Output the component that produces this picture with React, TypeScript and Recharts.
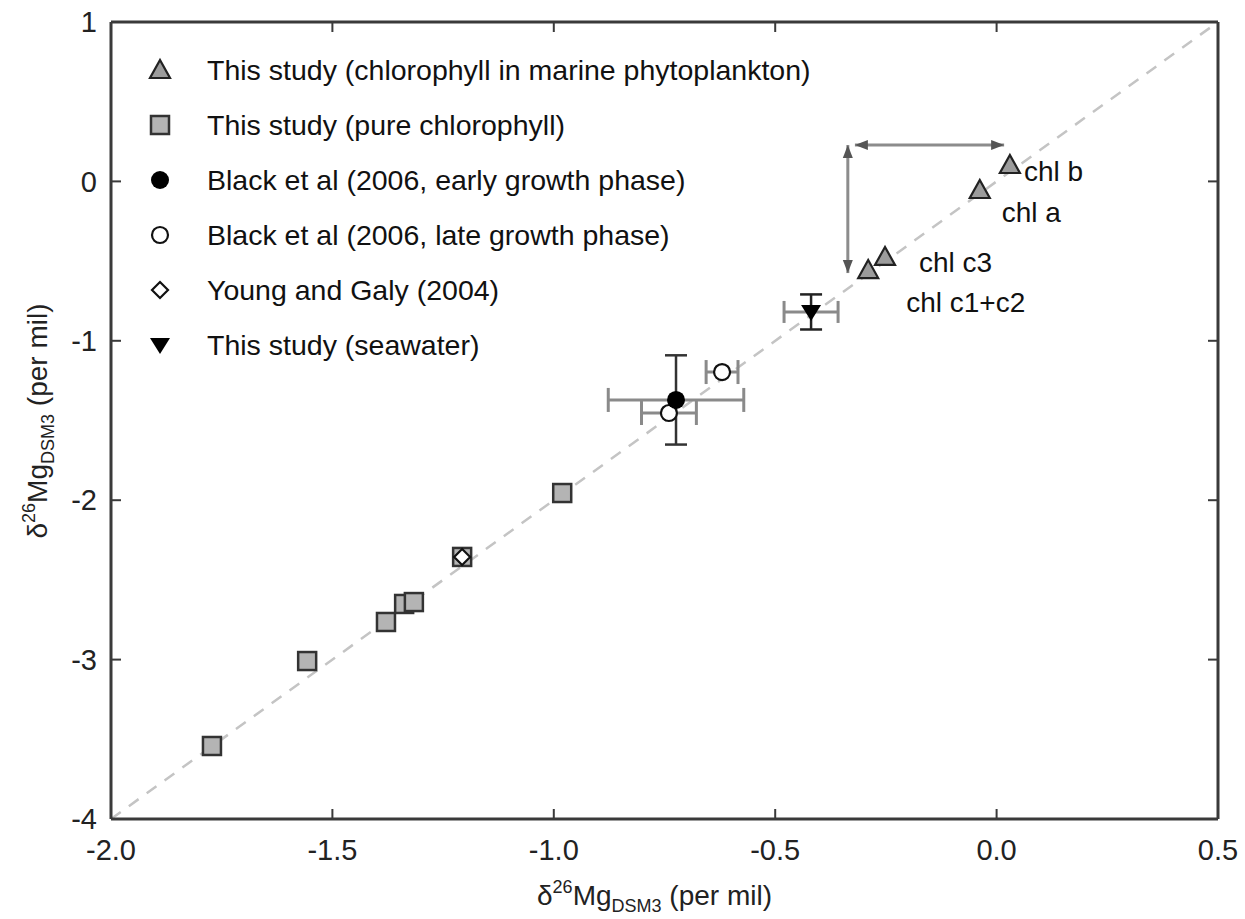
import React from "react";
import { ScatterChart, Scatter, XAxis, YAxis, ErrorBar, ReferenceLine, LabelList } from "recharts";

const xTicks = [-2, -1.5, -1, -0.5, 0, 0.5];
const yTicks = [-4, -3, -2, -1, 0, 1];

// chlorophyll in marine phytoplankton
const phytoNames = ["chl b", "chl a", "chl c3", "chl c1+c2"];
const phytoX = [0.03, -0.038, -0.252, -0.29];
const phytoY = [0.103, -0.054, -0.474, -0.556];

// pure chlorophyll
const pureX = [-1.772, -1.557, -1.379, -1.338, -1.316, -1.207, -0.981];
const pureY = [-3.542, -3.009, -2.764, -2.651, -2.639, -2.356, -1.955];

// Black et al 2006
const earlyX = [-0.724];
const earlyY = [-1.371];
const earlyErrX = [0.153];
const earlyErrY = [0.28];

const lateX = [-0.74, -0.62];
const lateY = [-1.453, -1.196];
const lateErrX = [0.062, 0.036];

// Young and Galy 2004
const youngX = [-1.207];
const youngY = [-2.356];

// seawater
const seaX = [-0.419];
const seaY = [-0.819];
const seaErrX = [0.061];
const seaErrY = [0.11];

// range arrows
const hArrow = [{ x: -0.32, y: 0.228 }, { x: 0.017, y: 0.228 }];
const vArrow = [{ x: -0.336, y: 0.228 }, { x: -0.336, y: -0.575 }];
const oneToOne = [{ x: -2, y: -4 }, { x: 0.5, y: 1 }];

const phytoData = phytoX.map((x, i) => ({ x, y: phytoY[i], name: phytoNames[i] }));
const pureData = pureX.map((x, i) => ({ x, y: pureY[i] }));
const earlyData = earlyX.map((x, i) => ({ x, y: earlyY[i], ex: earlyErrX[i], ey: earlyErrY[i] }));
const lateData = lateX.map((x, i) => ({ x, y: lateY[i], ex: lateErrX[i] }));
const youngData = youngX.map((x, i) => ({ x, y: youngY[i] }));
const seaData = seaX.map((x, i) => ({ x, y: seaY[i], ex: seaErrX[i], ey: seaErrY[i] }));

const FONT = "'Liberation Sans', Arial, sans-serif";

const TriUp = ({ cx, cy }: any) => (
  <polygon
    points={`${cx},${cy - 10} ${cx - 10},${cy + 8} ${cx + 10},${cy + 8}`}
    fill="#9c9c9c"
    stroke="#222"
    strokeWidth={2.2}
  />
);

const Square = ({ cx, cy }: any) => (
  <rect x={cx - 9} y={cy - 9} width={18} height={18} fill="#b4b4b4" stroke="#333" strokeWidth={2.5} />
);

const FilledCircle = ({ cx, cy }: any) => <circle cx={cx} cy={cy} r={9} fill="#000" />;

const OpenCircle = ({ cx, cy }: any) => (
  <circle cx={cx} cy={cy} r={8} fill="#fff" stroke="#111" strokeWidth={2.2} />
);

const Diamond = ({ cx, cy }: any) => (
  <polygon
    points={`${cx},${cy - 8} ${cx + 8},${cy} ${cx},${cy + 8} ${cx - 8},${cy}`}
    fill="#fff"
    stroke="#111"
    strokeWidth={2.2}
  />
);

const TriDown = ({ cx, cy }: any) => (
  <polygon points={`${cx - 10},${cy - 7} ${cx + 10},${cy - 7} ${cx},${cy + 9}`} fill="#000" />
);

const Hidden = () => <g />;

const Arrow = (p: any) => {
  const { x1, y1, x2, y2 } = p;
  const a = Math.atan2(y2 - y1, x2 - x1);
  const head = (x: number, y: number, ang: number) => {
    const L = 13;
    const W = 5;
    const bx = x - L * Math.cos(ang);
    const by = y - L * Math.sin(ang);
    return `${x},${y} ${bx - W * Math.sin(ang)},${by + W * Math.cos(ang)} ${bx + W * Math.sin(ang)},${by - W * Math.cos(ang)}`;
  };
  return (
    <g>
      <line x1={x1} y1={y1} x2={x2} y2={y2} stroke="#8c8c8c" strokeWidth={3} />
      <polygon points={head(x2, y2, a)} fill="#555" />
      <polygon points={head(x1, y1, a + Math.PI)} fill="#555" />
    </g>
  );
};

const chlOffsets: Record<string, [number, number]> = {
  "chl b": [14, 16],
  "chl a": [22, 32],
  "chl c3": [34, 15],
  "chl c1+c2": [38, 42],
};

const ChlLabel = (p: any) => {
  const { x, y, width, height, value } = p;
  const cx = x + (width || 0) / 2;
  const cy = y + (height || 0) / 2;
  const [dx, dy] = chlOffsets[value] || [12, 0];
  return (
    <text x={cx + dx} y={cy + dy} fontSize={28} fontFamily={FONT} fill="#111">
      {value}
    </text>
  );
};

const XTitle = (p: any) => {
  const vb = p.viewBox;
  return (
    <text x={vb.x + vb.width / 2 - 10} y={905} textAnchor="middle" fontSize={28} fontFamily={FONT} fill="#222">
      δ<tspan fontSize={18} dy={-12}>26</tspan>
      <tspan dy={12}>Mg</tspan>
      <tspan fontSize={18} dy={7}>DSM3</tspan>
      <tspan dy={-7}> (per mil)</tspan>
    </text>
  );
};

const YTitle = () => (
  <text
    x={0}
    y={0}
    transform="translate(47,421) rotate(-90)"
    textAnchor="middle"
    fontSize={28}
    fontFamily={FONT}
    fill="#222"
  >
    δ<tspan fontSize={18} dy={-12}>26</tspan>
    <tspan dy={12}>Mg</tspan>
    <tspan fontSize={18} dy={7}>DSM3</tspan>
    <tspan dy={-7}> (per mil)</tspan>
  </text>
);

const legendItems = [
  { label: "This study (chlorophyll in marine phytoplankton)", Shape: TriUp },
  { label: "This study (pure chlorophyll)", Shape: Square },
  { label: "Black et al (2006, early growth phase)", Shape: FilledCircle },
  { label: "Black et al (2006, late growth phase)", Shape: OpenCircle },
  { label: "Young and Galy (2004)", Shape: Diamond },
  { label: "This study (seawater)", Shape: TriDown },
];

const tickStyle = { fontSize: 29, fontFamily: FONT, fill: "#222" };
const axisLine = { stroke: "#3a3a3a", strokeWidth: 3 };
const tickLine = { stroke: "#3a3a3a", strokeWidth: 2 };
const NoTick = () => <g />;

export default function App() {
  return (
    <div style={{ position: "absolute", left: 0, top: 0, width: 1245, height: 919, background: "#fff" }}>
      <ScatterChart width={1245} height={919} margin={{ top: 21, right: 26, bottom: 40, left: 11 }}>
        <XAxis
          type="number"
          dataKey="x"
          domain={[-2, 0.5]}
          ticks={xTicks}
          allowDataOverflow
          tickFormatter={(v: number) => v.toFixed(1)}
          tick={tickStyle}
          tickSize={-10}
          tickMargin={30}
          height={60}
          axisLine={axisLine}
          tickLine={tickLine}
          label={<XTitle />}
        />
        <YAxis
          type="number"
          dataKey="y"
          domain={[-4, 1]}
          ticks={yTicks}
          allowDataOverflow
          tick={tickStyle}
          tickSize={-10}
          tickMargin={24}
          width={100}
          axisLine={axisLine}
          tickLine={tickLine}
          label={<YTitle />}
        />
        <XAxis
          xAxisId="top"
          orientation="top"
          type="number"
          dataKey="x"
          domain={[-2, 0.5]}
          ticks={xTicks}
          allowDataOverflow
          tick={NoTick}
          tickSize={-10}
          height={1}
          axisLine={axisLine}
          tickLine={tickLine}
        />
        <YAxis
          yAxisId="right"
          orientation="right"
          type="number"
          dataKey="y"
          domain={[-4, 1]}
          ticks={yTicks}
          allowDataOverflow
          tick={NoTick}
          tickSize={-10}
          width={1}
          axisLine={axisLine}
          tickLine={tickLine}
        />
        <Scatter
          data={oneToOne}
          xAxisId="top"
          yAxisId="right"
          shape={<Hidden />}
          isAnimationActive={false}
        />
        <ReferenceLine
          segment={oneToOne}
          stroke="#c4c4c4"
          strokeWidth={2.5}
          strokeDasharray="12 10"
          ifOverflow="visible"
        />
        <ReferenceLine segment={hArrow} ifOverflow="visible" shape={<Arrow />} />
        <ReferenceLine segment={vArrow} ifOverflow="visible" shape={<Arrow />} />
        <Scatter data={pureData} shape={<Square />} isAnimationActive={false} />
        <Scatter data={youngData} shape={<Diamond />} isAnimationActive={false} />
        <Scatter data={lateData} shape={<OpenCircle />} isAnimationActive={false}>
          <ErrorBar dataKey="ex" direction="x" width={12} stroke="#8a8a8a" strokeWidth={3} />
        </Scatter>
        <Scatter data={earlyData} shape={<FilledCircle />} isAnimationActive={false}>
          <ErrorBar dataKey="ex" direction="x" width={12} stroke="#8a8a8a" strokeWidth={3} />
          <ErrorBar dataKey="ey" direction="y" width={11} stroke="#333" strokeWidth={2.5} />
        </Scatter>
        <Scatter data={seaData} shape={<TriDown />} isAnimationActive={false}>
          <ErrorBar dataKey="ex" direction="x" width={11} stroke="#8a8a8a" strokeWidth={3} />
          <ErrorBar dataKey="ey" direction="y" width={11} stroke="#222" strokeWidth={2.5} />
        </Scatter>
        <Scatter data={phytoData} shape={<TriUp />} isAnimationActive={false}>
          <LabelList dataKey="name" content={<ChlLabel />} />
        </Scatter>
      </ScatterChart>
      <svg
        width={1245}
        height={919}
        style={{ position: "absolute", left: 0, top: 0, pointerEvents: "none" }}
      >
        {legendItems.map((it, i) => {
          const cy = 70 + i * 55;
          const S = it.Shape;
          return (
            <g key={i}>
              <S cx={160} cy={cy} />
              <text x={207} y={cy + 10} fontSize={28.5} fontFamily={FONT} fill="#111">
                {it.label}
              </text>
            </g>
          );
        })}
      </svg>
    </div>
  );
}
